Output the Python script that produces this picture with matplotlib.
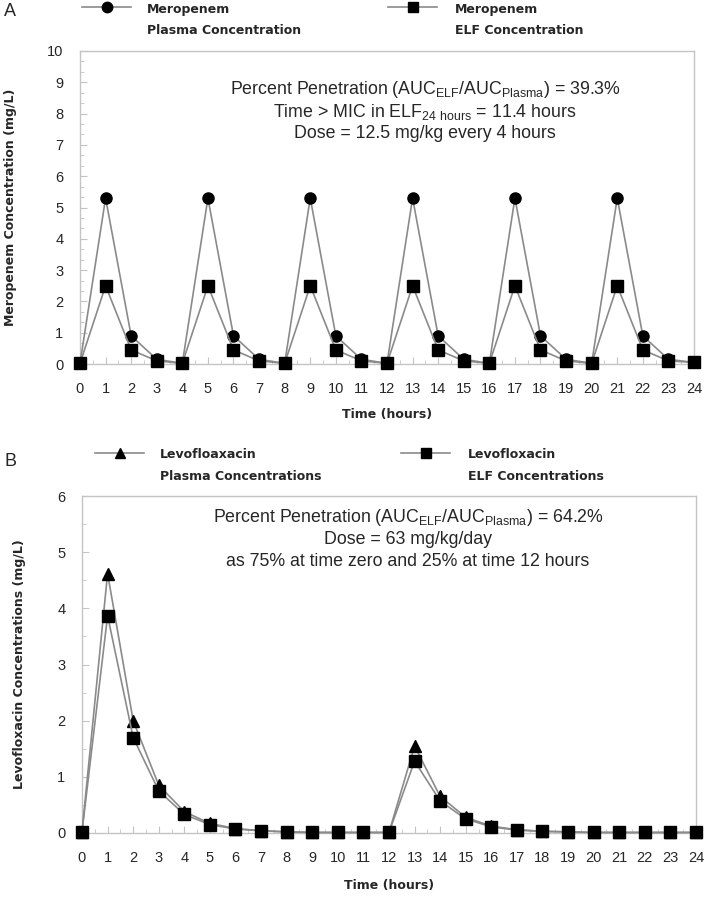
import matplotlib
matplotlib.use("Agg")
import matplotlib.pyplot as plt
from matplotlib.lines import Line2D
from matplotlib.ticker import MultipleLocator, AutoMinorLocator

plt.rcParams['font.family'] = ['Liberation Sans', 'DejaVu Sans']
plt.rcParams['mathtext.fontset'] = 'custom'
plt.rcParams['mathtext.rm'] = 'Liberation Sans'

# time points (hours)
hours = list(range(25))

# Panel A - meropenem
mero_plasma = [0.02, 5.3, 0.9, 0.15, 0.02, 5.3, 0.9, 0.15, 0.02, 5.3, 0.9, 0.15, 0.02,
               5.3, 0.9, 0.15, 0.02, 5.3, 0.9, 0.15, 0.02, 5.3, 0.9, 0.15, 0.05]
mero_elf = [0.02, 2.5, 0.45, 0.1, 0.02, 2.5, 0.45, 0.1, 0.02, 2.5, 0.45, 0.1, 0.02,
            2.5, 0.45, 0.1, 0.02, 2.5, 0.45, 0.1, 0.02, 2.5, 0.45, 0.1, 0.05]

# Panel B - levofloxacin
levo_plasma = [0.02, 4.62, 2.0, 0.85, 0.38, 0.17, 0.08, 0.04, 0.02, 0.01, 0.01, 0.01, 0.01,
               1.55, 0.65, 0.28, 0.12, 0.06, 0.03, 0.02, 0.01, 0.01, 0.01, 0.01, 0.01]
levo_elf = [0.02, 3.87, 1.7, 0.75, 0.33, 0.15, 0.07, 0.04, 0.02, 0.01, 0.01, 0.01, 0.01,
            1.28, 0.57, 0.25, 0.11, 0.05, 0.03, 0.02, 0.01, 0.01, 0.01, 0.01, 0.01]

W, H = 705, 899
fig = plt.figure(figsize=(W / 100, H / 100), dpi=100)

def fx(px):
    return px / W

def fy(py):
    return 1 - py / H

line_col = '#8a8a8a'
frame_col = '#c4c4c4'
txt_col = '#262626'
bold_font = ['DejaVu Sans']
note_size = 12.8

def style_axes(ax, ymax, yminor):
    ax.set_xlim(0, 24)
    ax.set_ylim(0, ymax)
    ax.set_xticks(hours)
    ax.xaxis.set_minor_locator(MultipleLocator(0.5))
    ax.yaxis.set_major_locator(MultipleLocator(1))
    ax.yaxis.set_minor_locator(AutoMinorLocator(yminor))
    for s in ax.spines.values():
        s.set_color(frame_col)
        s.set_linewidth(1.0)
    ax.tick_params(which='both', direction='in', color=frame_col, labelcolor=txt_col,
                   labelsize=10.5)
    ax.tick_params(axis='x', which='major', length=5, pad=13)
    ax.tick_params(axis='x', which='minor', length=3)
    ax.tick_params(axis='y', which='major', length=5, pad=12)
    ax.tick_params(axis='y', which='minor', length=3)

def legend_item(x0, y_line, y_text2, marker, line1, line2, text_x):
    fig.add_artist(Line2D([fx(x0), fx(x0 + 49)], [fy(y_line), fy(y_line)], color=line_col, lw=1.2))
    fig.add_artist(Line2D([fx(x0 + 24.5)], [fy(y_line)], marker=marker, color='black',
                          markersize=7.5, ls='none'))
    fig.text(fx(text_x), fy(y_line + 2), line1, fontsize=9, fontweight='bold', color=txt_col,
             va='center', ha='left', family=bold_font)
    fig.text(fx(text_x), fy(y_text2), line2, fontsize=9, fontweight='bold', color=txt_col,
             va='center', ha='left', family=bold_font)

# ---------------- Panel A ----------------
axA = fig.add_axes([fx(80), fy(364), fx(694) - fx(80), fy(51) - fy(364)])
axA.plot(hours, mero_plasma, color=line_col, lw=1.2, marker='o', mfc='black', mec='black',
         ms=8, clip_on=False, zorder=3)
axA.plot(hours, mero_elf, color=line_col, lw=1.2, marker='s', mfc='black', mec='black',
         ms=8, clip_on=False, zorder=3)
style_axes(axA, 10, 3)
axA.set_ylabel('Meropenem Concentration (mg/L)', fontsize=9, fontweight='bold', color=txt_col,
               family=bold_font)
axA.yaxis.set_label_coords(-(80 - 17) / 614, 0.5)
axA.set_xlabel('Time (hours)', fontsize=9, fontweight='bold', color=txt_col, family=bold_font)
axA.xaxis.set_label_coords(0.5, -(408 - 364) / 313)

fig.text(fx(425), fy(90), r'Percent Penetration (AUC$_{\mathregular{ELF}}$/AUC$_{\mathregular{Plasma}}$) = 39.3%',
         fontsize=note_size, color=txt_col, ha='center', va='center')
fig.text(fx(425), fy(112), r'Time > MIC in ELF$_{\mathregular{24\ hours}}$ = 11.4 hours',
         fontsize=note_size, color=txt_col, ha='center', va='center')
fig.text(fx(425), fy(133), 'Dose = 12.5 mg/kg every 4 hours',
         fontsize=note_size, color=txt_col, ha='center', va='center')

fig.text(fx(4), fy(11), 'A', fontsize=13, color=txt_col, ha='left', va='center')
legend_item(82, 7, 31, 'o', 'Meropenem', 'Plasma Concentration', 147)
legend_item(388, 7, 31, 's', 'Meropenem', 'ELF Concentration', 455)

# ---------------- Panel B ----------------
axB = fig.add_axes([fx(82), fy(833), fx(696) - fx(82), fy(496) - fy(833)])
axB.plot(hours, levo_plasma, color=line_col, lw=1.2, marker='^', mfc='black', mec='black',
         ms=8, clip_on=False, zorder=3)
axB.plot(hours, levo_elf, color=line_col, lw=1.2, marker='s', mfc='black', mec='black',
         ms=8, clip_on=False, zorder=3)
style_axes(axB, 6, 2)
axB.set_ylabel('Levofloxacin Concentrations (mg/L)', fontsize=9, fontweight='bold', color=txt_col,
               family=bold_font)
axB.yaxis.set_label_coords(-(82 - 26) / 614, 0.5)
axB.set_xlabel('Time (hours)', fontsize=9, fontweight='bold', color=txt_col, family=bold_font)
axB.xaxis.set_label_coords(0.5, -(879 - 833) / 337)

fig.text(fx(408), fy(518), r'Percent Penetration (AUC$_{\mathregular{ELF}}$/AUC$_{\mathregular{Plasma}}$) = 64.2%',
         fontsize=note_size, color=txt_col, ha='center', va='center')
fig.text(fx(408), fy(540), 'Dose = 63 mg/kg/day',
         fontsize=note_size, color=txt_col, ha='center', va='center')
fig.text(fx(408), fy(562), 'as 75% at time zero and 25% at time 12 hours',
         fontsize=note_size, color=txt_col, ha='center', va='center')

fig.text(fx(4), fy(462), 'B', fontsize=13, color=txt_col, ha='left', va='center')
legend_item(95, 453, 477, '^', 'Levofloaxacin', 'Plasma Concentrations', 160)
legend_item(401, 453, 477, 's', 'Levofloxacin', 'ELF Concentrations', 468)

fig.savefig('out.png', dpi=100)
